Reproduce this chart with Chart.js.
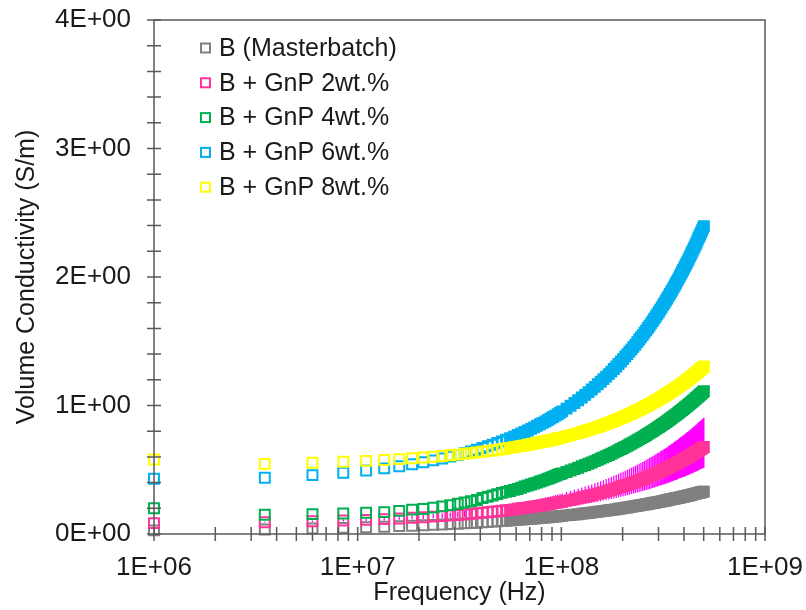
<!DOCTYPE html>
<html>
<head>
<meta charset="utf-8">
<script src="https://cdn.jsdelivr.net/npm/chart.js@4.4.1/dist/chart.umd.min.js"></script>
<style>
  html, body { margin: 0; padding: 0; background: #fff; }
  #wrap { position: relative; width: 806px; height: 610px; }
</style>
</head>
<body>
<div id="wrap"><canvas id="chart"></canvas></div>
<script>
// Measured frequencies (MHz)
const freqMHz = [
  1, 3.5, 6, 8.5, 11, 13.5, 16, 18.5, 21, 23.5,
  26, 28.5, 31, 33.5, 36, 38.5, 41, 43.5, 46, 48.5,
  51, 53.5, 56, 58.5, 61, 63.5, 66, 68.5, 71, 73.5,
  76, 78.5, 81, 83.5, 86, 88.5, 91, 93.5, 96, 98.5,
  101,
  106, 111, 116, 121, 126, 131, 136, 141, 146, 151,
  156, 161, 166, 171, 176, 181, 186, 191, 196, 201,
  206, 211, 216, 221, 226, 231, 236, 241, 246, 251,
  256, 261, 266, 271, 276, 281, 286, 291, 296, 301,
  306, 311, 316, 321, 326, 331, 336, 341, 346, 351,
  356, 361, 366, 371, 376, 381, 386, 391, 396, 401,
  406, 411, 416, 421, 426, 431, 436, 441, 446, 451,
  456, 461, 466, 471, 476, 481, 486, 491, 496, 501];

// Volume conductivity (S/m)
const masterbatch = [
  0.028, 0.035, 0.043, 0.048, 0.053, 0.057, 0.061, 0.064, 0.068, 0.071,
  0.074, 0.077, 0.080, 0.083, 0.086, 0.088, 0.091, 0.093, 0.096, 0.098,
  0.101, 0.103, 0.105, 0.108, 0.110, 0.112, 0.114, 0.116, 0.118, 0.120,
  0.122, 0.124, 0.126, 0.128, 0.130, 0.132, 0.134, 0.136, 0.137, 0.139,
  0.141,
  0.145, 0.148, 0.151, 0.154, 0.158, 0.161, 0.164, 0.167, 0.170, 0.173,
  0.176, 0.179, 0.182, 0.185, 0.188, 0.190, 0.193, 0.196, 0.199, 0.201,
  0.204, 0.206, 0.209, 0.212, 0.215, 0.217, 0.220, 0.222, 0.225, 0.227,
  0.229, 0.231, 0.234, 0.236, 0.239, 0.241, 0.243, 0.245, 0.248, 0.250,
  0.252, 0.254, 0.257, 0.259, 0.261, 0.263, 0.266, 0.268, 0.270, 0.272,
  0.274, 0.276, 0.278, 0.280, 0.282, 0.284, 0.286, 0.288, 0.290, 0.292,
  0.294, 0.296, 0.298, 0.300, 0.302, 0.304, 0.306, 0.308, 0.310, 0.312,
  0.314, 0.316, 0.318, 0.319, 0.321, 0.323, 0.325, 0.327, 0.329, 0.330];
const gnp2 = [
  0.085, 0.092, 0.099, 0.105, 0.110, 0.116, 0.121, 0.126, 0.130, 0.135,
  0.139, 0.144, 0.148, 0.152, 0.157, 0.161, 0.165, 0.169, 0.173, 0.177,
  0.181, 0.185, 0.188, 0.192, 0.196, 0.200, 0.203, 0.207, 0.210, 0.214,
  0.217, 0.221, 0.224, 0.228, 0.231, 0.235, 0.238, 0.242, 0.245, 0.248,
  0.251,
  0.258, 0.264, 0.271, 0.277, 0.284, 0.290, 0.296, 0.302, 0.308, 0.314,
  0.320, 0.326, 0.332, 0.338, 0.344, 0.350, 0.356, 0.362, 0.368, 0.373,
  0.379, 0.384, 0.390, 0.396, 0.402, 0.407, 0.413, 0.418, 0.423, 0.428,
  0.434, 0.439, 0.445, 0.450, 0.456, 0.461, 0.466, 0.471, 0.477, 0.482,
  0.487, 0.492, 0.497, 0.502, 0.507, 0.512, 0.518, 0.523, 0.528, 0.533,
  0.538, 0.543, 0.548, 0.553, 0.558, 0.563, 0.568, 0.573, 0.578, 0.582,
  0.587, 0.592, 0.597, 0.601, 0.606, 0.611, 0.616, 0.621, 0.626, 0.630,
  0.635, 0.640, 0.645, 0.650, 0.655, 0.659, 0.664, 0.668, 0.673, 0.677];
const gnp4 = [
  0.200, 0.150, 0.155, 0.160, 0.165, 0.170, 0.180, 0.190, 0.195, 0.205,
  0.215, 0.225, 0.235, 0.245, 0.255, 0.265, 0.280, 0.290, 0.300, 0.310,
  0.320, 0.328, 0.335, 0.343, 0.350, 0.360, 0.370, 0.378, 0.385, 0.393,
  0.400, 0.408, 0.415, 0.423, 0.430, 0.438, 0.445, 0.453, 0.461, 0.467,
  0.472,
  0.483, 0.494, 0.505, 0.516, 0.527, 0.537, 0.547, 0.557, 0.567, 0.577,
  0.587, 0.596, 0.606, 0.615, 0.624, 0.633, 0.643, 0.652, 0.661, 0.669,
  0.678, 0.687, 0.696, 0.704, 0.713, 0.721, 0.730, 0.738, 0.746, 0.754,
  0.762, 0.770, 0.779, 0.787, 0.795, 0.802, 0.810, 0.818, 0.826, 0.833,
  0.841, 0.849, 0.856, 0.863, 0.871, 0.878, 0.886, 0.893, 0.901, 0.908,
  0.915, 0.922, 0.929, 0.936, 0.944, 0.951, 0.958, 0.965, 0.972, 0.979,
  0.986, 0.992, 0.999, 1.006, 1.013, 1.019, 1.026, 1.033, 1.040, 1.046,
  1.053, 1.059, 1.066, 1.073, 1.080, 1.086, 1.092, 1.098, 1.105, 1.111];
const gnp6 = [
  0.430, 0.438, 0.458, 0.477, 0.494, 0.511, 0.527, 0.543, 0.558, 0.573,
  0.587, 0.602, 0.615, 0.629, 0.643, 0.656, 0.669, 0.683, 0.695, 0.708,
  0.721, 0.734, 0.746, 0.758, 0.770, 0.782, 0.794, 0.806, 0.818, 0.830,
  0.842, 0.854, 0.865, 0.876, 0.887, 0.899, 0.910, 0.921, 0.932, 0.943,
  0.954,
  0.976, 0.998, 1.020, 1.041, 1.062, 1.083, 1.104, 1.124, 1.145, 1.165,
  1.185, 1.205, 1.225, 1.244, 1.264, 1.284, 1.304, 1.323, 1.342, 1.361,
  1.381, 1.400, 1.419, 1.437, 1.456, 1.474, 1.493, 1.512, 1.530, 1.548,
  1.567, 1.585, 1.603, 1.621, 1.639, 1.657, 1.675, 1.693, 1.711, 1.728,
  1.746, 1.764, 1.781, 1.798, 1.816, 1.833, 1.851, 1.868, 1.885, 1.902,
  1.919, 1.936, 1.953, 1.970, 1.987, 2.004, 2.021, 2.038, 2.055, 2.071,
  2.087, 2.103, 2.120, 2.136, 2.153, 2.170, 2.187, 2.203, 2.219, 2.235,
  2.251, 2.267, 2.284, 2.301, 2.317, 2.333, 2.349, 2.364, 2.380, 2.396];
const gnp8 = [
  0.580, 0.546, 0.555, 0.562, 0.569, 0.576, 0.583, 0.589, 0.595, 0.601,
  0.607, 0.613, 0.618, 0.624, 0.629, 0.635, 0.640, 0.645, 0.650, 0.655,
  0.660, 0.665, 0.670, 0.675, 0.680, 0.685, 0.689, 0.694, 0.698, 0.703,
  0.708, 0.713, 0.717, 0.722, 0.726, 0.730, 0.734, 0.739, 0.743, 0.748,
  0.752,
  0.761, 0.769, 0.777, 0.785, 0.794, 0.802, 0.810, 0.818, 0.826, 0.833,
  0.841, 0.849, 0.857, 0.864, 0.872, 0.879, 0.887, 0.894, 0.902, 0.909,
  0.917, 0.924, 0.931, 0.938, 0.946, 0.953, 0.960, 0.967, 0.974, 0.981,
  0.988, 0.995, 1.002, 1.009, 1.016, 1.022, 1.029, 1.036, 1.043, 1.050,
  1.057, 1.063, 1.070, 1.076, 1.083, 1.090, 1.097, 1.103, 1.110, 1.116,
  1.123, 1.129, 1.136, 1.142, 1.149, 1.155, 1.161, 1.167, 1.174, 1.180,
  1.186, 1.192, 1.199, 1.205, 1.212, 1.218, 1.224, 1.230, 1.236, 1.242,
  1.248, 1.254, 1.261, 1.267, 1.273, 1.279, 1.285, 1.291, 1.297, 1.303];

// Spread of the 2wt.% sample (magenta bars above / below)
const gnp2ErrUp = [
  0.002, 0.005, 0.007, 0.009, 0.011, 0.014, 0.016, 0.017, 0.019, 0.021,
  0.022, 0.024, 0.026, 0.027, 0.029, 0.031, 0.032, 0.034, 0.035, 0.037,
  0.038, 0.040, 0.041, 0.043, 0.044, 0.046, 0.047, 0.048, 0.049, 0.051,
  0.052, 0.054, 0.055, 0.056, 0.057, 0.059, 0.060, 0.062, 0.063, 0.064,
  0.065,
  0.068, 0.070, 0.073, 0.075, 0.078, 0.080, 0.082, 0.084, 0.087, 0.089,
  0.091, 0.093, 0.096, 0.098, 0.101, 0.103, 0.105, 0.107, 0.109, 0.111,
  0.114, 0.116, 0.118, 0.120, 0.122, 0.124, 0.126, 0.128, 0.130, 0.132,
  0.134, 0.136, 0.139, 0.141, 0.143, 0.145, 0.147, 0.149, 0.151, 0.153,
  0.155, 0.157, 0.159, 0.160, 0.162, 0.164, 0.166, 0.168, 0.170, 0.172,
  0.174, 0.176, 0.178, 0.180, 0.182, 0.184, 0.186, 0.187, 0.189, 0.191,
  0.193, 0.195, 0.197, 0.198, 0.200, 0.202, 0.204, 0.206, 0.208, 0.209,
  0.211, 0.213, 0.215, 0.217, 0.219, 0.220, 0.222, 0.223, 0.225, 0.227];
const gnp2ErrDown = [
  0.001, 0.003, 0.005, 0.007, 0.008, 0.010, 0.011, 0.012, 0.014, 0.015,
  0.016, 0.017, 0.018, 0.019, 0.021, 0.022, 0.023, 0.024, 0.025, 0.026,
  0.027, 0.028, 0.029, 0.030, 0.031, 0.032, 0.033, 0.034, 0.035, 0.036,
  0.037, 0.038, 0.039, 0.040, 0.041, 0.042, 0.043, 0.044, 0.045, 0.046,
  0.046,
  0.048, 0.050, 0.052, 0.053, 0.055, 0.057, 0.059, 0.060, 0.062, 0.063,
  0.065, 0.066, 0.068, 0.070, 0.072, 0.073, 0.075, 0.076, 0.078, 0.079,
  0.081, 0.082, 0.084, 0.085, 0.087, 0.088, 0.090, 0.091, 0.093, 0.094,
  0.096, 0.097, 0.099, 0.100, 0.102, 0.103, 0.105, 0.106, 0.108, 0.109,
  0.110, 0.111, 0.113, 0.114, 0.116, 0.117, 0.119, 0.120, 0.121, 0.122,
  0.124, 0.125, 0.127, 0.128, 0.129, 0.130, 0.132, 0.133, 0.135, 0.136,
  0.137, 0.138, 0.140, 0.141, 0.142, 0.143, 0.145, 0.146, 0.148, 0.149,
  0.150, 0.151, 0.153, 0.154, 0.155, 0.156, 0.158, 0.159, 0.160, 0.161];

const seriesNames = ['B (Masterbatch)', 'B + GnP 2wt.%', 'B + GnP 4wt.%', 'B + GnP 6wt.%', 'B + GnP 8wt.%'];
const seriesValues = [masterbatch, gnp2, gnp4, gnp6, gnp8];
const seriesColors = ['#808080', '#ff3399', '#00b050', '#00b0f0', '#ffff00'];
const errColor = '#ff00ff';

const xMajorTicks = [1e6, 1e7, 1e8, 1e9];
const yMajorTicks = [0, 1, 2, 3, 4];

const FONT = "'Liberation Sans', Arial, sans-serif";
const AXIS = '#595959';
const TEXT = '#1a1a1a';
const FILL_FROM = 56; // MHz - past this the squares pile up into a solid band

const toPoints = vals => freqMHz.map((f, i) => ({ x: f * 1e6, y: vals[i] }));

const datasets = seriesValues.map((vals, i) => ({
    label: seriesNames[i],
    data: toPoints(vals),
    borderColor: seriesColors[i],
    backgroundColor: seriesColors[i],
    pointStyle: 'rect',
    pointRadius: 7,
    pointBorderWidth: 2,
    pointBackgroundColor: ctx => freqMHz[ctx.dataIndex] >= FILL_FROM ? seriesColors[i] : 'rgba(255,255,255,0)',
    order: seriesValues.length - 1 - i,
    clip: false
}));

// magenta spread bars behind the 2wt.% squares
const errorBars = {
    id: 'errorBars',
    beforeDatasetsDraw(chart) {
        const { ctx, scales: { x, y } } = chart;
        ctx.save();
        ctx.strokeStyle = errColor;
        ctx.lineWidth = 1.3;
        ctx.beginPath();
        freqMHz.forEach((f, i) => {
            const px = x.getPixelForValue(f * 1e6);
            ctx.moveTo(px, y.getPixelForValue(gnp2[i] + gnp2ErrUp[i]));
            ctx.lineTo(px, y.getPixelForValue(gnp2[i] - gnp2ErrDown[i]));
        });
        ctx.stroke();
        ctx.restore();
    }
};

// box frame + crossing tick marks (major and minor)
const frame = {
    id: 'frame',
    afterDatasetsDraw(chart) {
        const { ctx, chartArea: a, scales: { x, y } } = chart;
        ctx.save();
        ctx.strokeStyle = AXIS;
        ctx.lineWidth = 1.5;
        ctx.strokeRect(a.left, a.top, a.right - a.left, a.bottom - a.top);
        ctx.beginPath();
        for (let k = 0; k <= 20; k++) {
            const py = y.getPixelForValue(k * 0.2);
            ctx.moveTo(a.left - 7, py);
            ctx.lineTo(a.left + 7, py);
        }
        for (let d = 1e6; d < 1e9; d *= 10) {
            for (let m = 1; m <= 10; m++) {
                const px = x.getPixelForValue(m * d);
                ctx.moveTo(px, a.bottom - 7);
                ctx.lineTo(px, a.bottom + 7);
            }
        }
        ctx.stroke();
        ctx.restore();
    }
};

// legend inside the plot, top-left
const insideLegend = {
    id: 'insideLegend',
    afterDraw(chart) {
        const { ctx } = chart;
        ctx.save();
        ctx.font = '25px ' + FONT;
        ctx.textBaseline = 'middle';
        chart.data.datasets.forEach((ds, i) => {
            const cy = 48 + i * 34.8;
            ctx.strokeStyle = ds.borderColor;
            ctx.lineWidth = 2;
            ctx.strokeRect(201, cy - 4.5, 9, 9);
            ctx.fillStyle = TEXT;
            ctx.fillText(ds.label, 219, cy + 1);
        });
        ctx.restore();
    }
};

new Chart(document.getElementById('chart'), {
    type: 'scatter',
    data: { datasets },
    options: {
        responsive: true,
        maintainAspectRatio: false,
        animation: false,
        events: [],
        layout: { padding: { left: 0, right: 41, top: 20, bottom: 0 } },
        plugins: { legend: { display: false }, tooltip: { enabled: false } },
        scales: {
            x: {
                type: 'logarithmic',
                min: 1e6,
                max: 1e9,
                afterBuildTicks: s => { s.ticks = xMajorTicks.map(v => ({ value: v })); },
                afterFit: s => { s.height = 76; s.paddingLeft = 0; s.paddingRight = 0; },
                grid: { display: false, drawTicks: false },
                border: { display: false },
                ticks: {
                    autoSkip: false,
                    maxRotation: 0,
                    padding: 18,
                    color: TEXT,
                    font: { family: FONT, size: 26 },
                    callback: v => '1E+' + String(Math.round(Math.log10(v))).padStart(2, '0')
                },
                title: {
                    display: true,
                    text: 'Frequency (Hz)',
                    color: TEXT,
                    font: { family: FONT, size: 25 },
                    padding: { top: 0, bottom: 2 }
                }
            },
            y: {
                min: 0,
                max: 4,
                afterBuildTicks: s => { s.ticks = yMajorTicks.map(v => ({ value: v })); },
                afterFit: s => { s.width = 154; s.paddingTop = 0; s.paddingBottom = 0; },
                grid: { display: false, drawTicks: false },
                border: { display: false },
                ticks: {
                    padding: 23,
                    color: TEXT,
                    font: { family: FONT, size: 26 },
                    callback: v => v + 'E+00'
                },
                title: {
                    display: true,
                    text: 'Volume Conductivity (S/m)',
                    color: TEXT,
                    font: { family: FONT, size: 25 },
                    padding: { top: 12, bottom: 0 }
                }
            }
        }
    },
    plugins: [errorBars, frame, insideLegend]
});
</script>
</body>
</html>
